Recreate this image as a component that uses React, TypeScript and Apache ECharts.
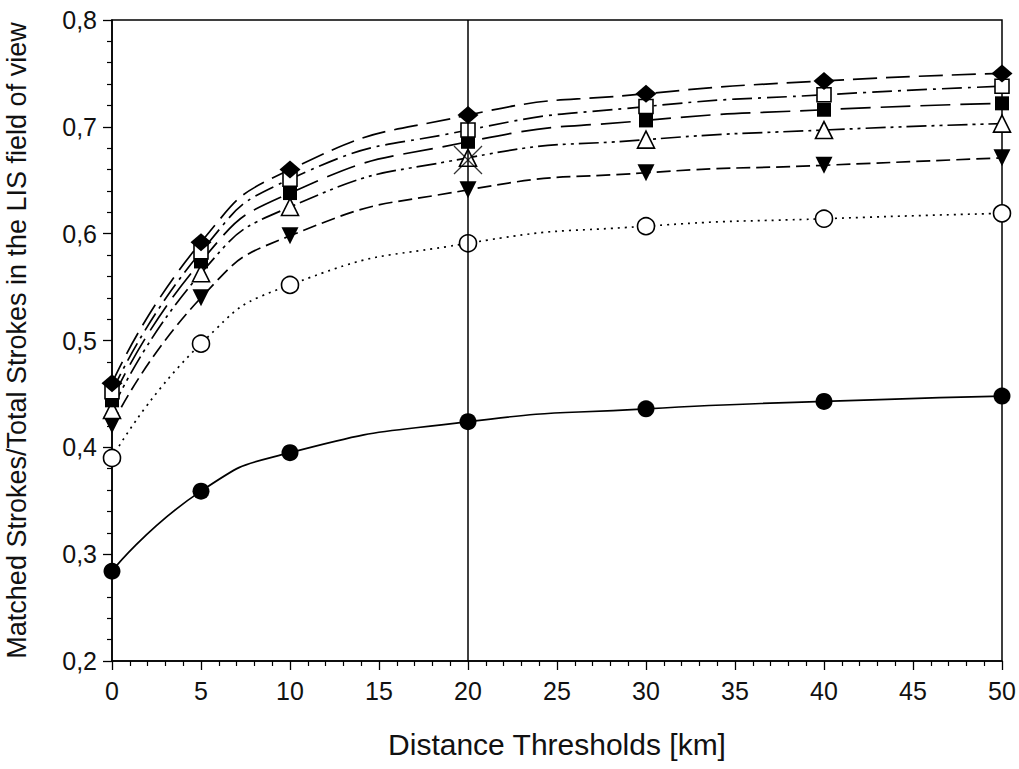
import React, { useEffect, useRef } from "react";
import * as echarts from "echarts";

const xValues = [0, 5, 10, 20, 30, 40, 50];
const diamondVals = [0.46, 0.592, 0.66, 0.711, 0.731, 0.743, 0.75];
const openSquareVals = [0.452, 0.583, 0.651, 0.697, 0.719, 0.73, 0.738];
const filledSquareVals = [0.444, 0.574, 0.638, 0.686, 0.706, 0.716, 0.722];
const upTriangleVals = [0.435, 0.563, 0.625, 0.671, 0.688, 0.697, 0.703];
const downTriangleVals = [0.421, 0.54, 0.598, 0.641, 0.657, 0.664, 0.671];
const openCircleVals = [0.39, 0.497, 0.552, 0.591, 0.607, 0.614, 0.619];
const filledCircleVals = [0.284, 0.359, 0.395, 0.424, 0.436, 0.443, 0.448];
const crossPoint = [[20, 0.669]];
const verticalLineX = 20;

const xTickLabels = ["0", "5", "10", "15", "20", "25", "30", "35", "40", "45", "50"];

const FONT = "'Liberation Sans', Arial, Helvetica, sans-serif";

function pairs(vals: number[]) {
  return xValues.map((x, i) => [x, vals[i]]);
}

export default function App() {
  const ref = useRef<HTMLDivElement>(null);
  useEffect(() => {
    if (!ref.current) return;
    const chart = echarts.init(ref.current, null, { renderer: "svg" });
    const mkLine = (
      name: string,
      vals: number[],
      symbol: string,
      size: number | number[],
      filled: boolean,
      dash: any,
      rotate = 0
    ) => ({
      name,
      type: "line",
      data: pairs(vals),
      smooth: 0.55,
      symbol,
      symbolSize: size,
      symbolRotate: rotate,
      showSymbol: true,
      lineStyle: { color: "#000", width: 1.7, type: dash },
      itemStyle: {
        color: filled ? "#000" : "#fff",
        borderColor: "#000",
        borderWidth: filled ? 0 : 1.6,
        opacity: 1,
      },
      emphasis: { disabled: true },
    });
    const option: any = {
      animation: false,
      backgroundColor: "#fff",
      grid: {
        left: 112,
        right: 17,
        top: 20,
        bottom: 108,
        outerBoundsMode: "none",
        containLabel: false,
        show: true,
        borderColor: "#000",
        borderWidth: 1.5,
        backgroundColor: "transparent",
      },
      xAxis: {
        type: "value",
        min: 0,
        max: 50,
        interval: 5,
        name: "Distance Thresholds [km]",
        nameLocation: "middle",
        nameGap: 68,
        nameTextStyle: { fontFamily: FONT, fontSize: 30, color: "#111" },
        axisLine: { show: true, onZero: false, lineStyle: { color: "#000", width: 1.5 } },
        axisTick: { show: true, inside: false, length: 9, lineStyle: { color: "#000", width: 1.3 } },
        minorTick: { show: true, splitNumber: 5, length: 5, lineStyle: { color: "#000", width: 1.2 } },
        splitLine: { show: false },
        axisLabel: {
          fontFamily: FONT,
          fontSize: 25,
          color: "#111",
          margin: 17,
          formatter: (v: number) => xTickLabels[Math.round(v / 5)] ?? String(v),
        },
      },
      yAxis: {
        type: "value",
        min: 0.2,
        max: 0.8,
        interval: 0.1,
        name: "Matched Strokes/Total Strokes in the LIS field of view",
        nameLocation: "middle",
        nameGap: 82,
        nameTextStyle: { fontFamily: FONT, fontSize: 27, color: "#111" },
        axisLine: { show: true, lineStyle: { color: "#000", width: 1.5 } },
        axisTick: { show: true, inside: false, length: 9, lineStyle: { color: "#000", width: 1.3 } },
        minorTick: { show: true, splitNumber: 5, length: 5, lineStyle: { color: "#000", width: 1.2 } },
        splitLine: { show: false },
        axisLabel: {
          fontFamily: FONT,
          fontSize: 25,
          color: "#111",
          margin: 15,
          formatter: (v: number) => v.toFixed(1).replace(".", ","),
        },
      },
      series: [
        {
          ...mkLine("filledCircle", filledCircleVals, "circle", 17, true, "solid"),
          markLine: {
            silent: true,
            symbol: "none",
            label: { show: false },
            lineStyle: { color: "#000", width: 1.5, type: "solid" },
            data: [{ xAxis: verticalLineX }],
          },
        },
        mkLine("openCircle", openCircleVals, "circle", 17, false, [2, 5]),
        mkLine("downTriangle", downTriangleVals, "triangle", 17, true, [14, 6], 180),
        mkLine("upTriangle", upTriangleVals, "triangle", 17, false, [20, 5, 3, 5, 3, 5]),
        mkLine("filledSquare", filledSquareVals, "rect", 14, true, [30, 10]),
        mkLine("openSquare", openSquareVals, "rect", 14, false, [20, 6, 3, 6]),
        mkLine("diamond", diamondVals, "diamond", [21, 18], true, [24, 9]),
        {
          name: "cross",
          type: "scatter",
          data: crossPoint,
          symbol: "path://M0,0L10,10M10,0L0,10",
          symbolSize: 28,
          itemStyle: { color: "none", borderColor: "#000", borderWidth: 1.3 },
          emphasis: { disabled: true },
          z: 5,
        },
      ],
    };
    chart.setOption(option);
    return () => chart.dispose();
  }, []);
  return (
    <div
      ref={ref}
      style={{ position: "fixed", left: 0, top: 0, width: 1019, height: 769, background: "#fff" }}
    />
  );
}
